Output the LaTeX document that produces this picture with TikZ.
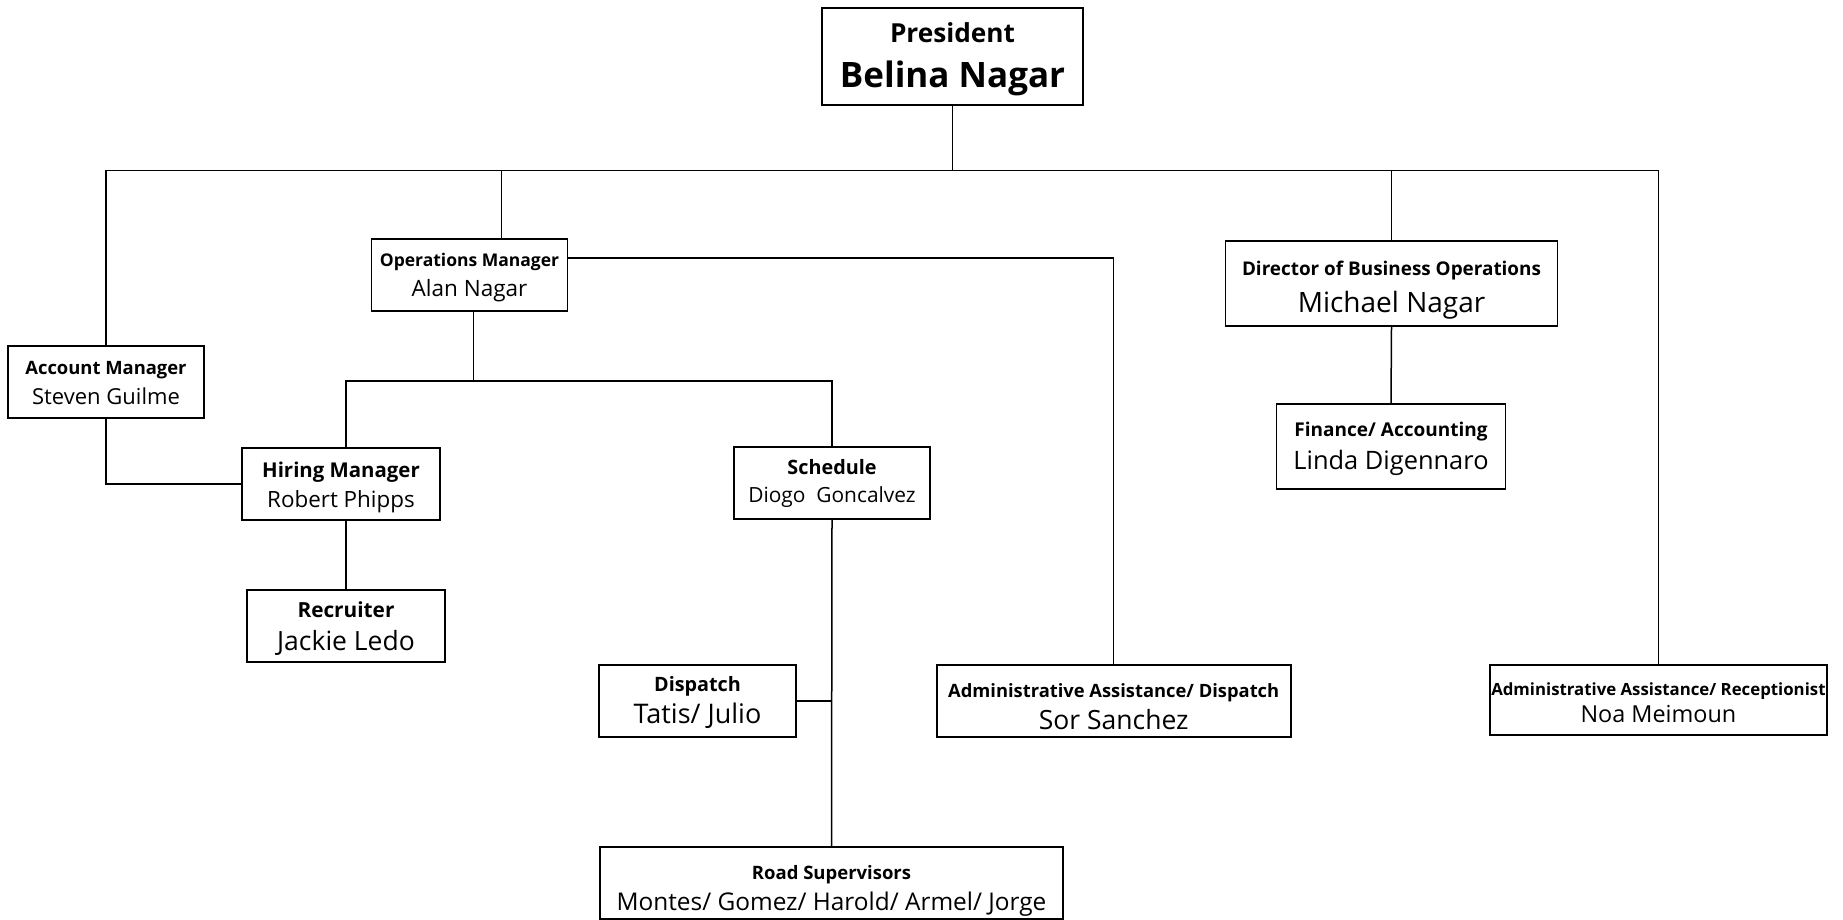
\documentclass[tikz,border=0pt]{standalone}
\usepackage{fontspec}
\setmainfont{Open Sans}
\newcommand{\ttl}[2]{{\fontsize{#1}{#1}\selectfont\bfseries #2}}
\newcommand{\nm}[2]{{\fontsize{#1}{#1}\selectfont #2}}
\newcommand{\up}[1]{\rule{0pt}{#1pt}}

\begin{document}
\begin{tikzpicture}[x=1pt,y=-1pt]
		\useasboundingbox (0,0) rectangle (1843,919);
		\tikzset{conn/.style={line width=1.5pt}}
		\begin{scope}[every node/.style={rectangle,draw,line width=1.8pt,
			align=center,inner sep=0pt,font=\fontsize{18}{30}\selectfont}]
		\node[minimum width=261pt,minimum height=97pt] (pres) at (952.5,56.5) {\up{24.7}\ttl{26.2}{President}\\[15pt]\ttl{35}{Belina Nagar}};
		\node[minimum width=196pt,minimum height=72pt] (acct) at (106,382) {\up{15}\ttl{18.4}{Account Manager}\\\nm{22}{Steven Guilme}};
		\node[minimum width=196pt,minimum height=72pt] (ops) at (469.5,275) {\up{18.1}\ttl{17.5}{Operations Manager}\\\nm{22.5}{Alan Nagar}};
		\node[minimum width=332pt,minimum height=85pt] (dir) at (1391.5,283.3) {\up{28.4}\ttl{18.9}{Director of Business Operations}\\[7pt]\nm{28}{Michael Nagar}};
		\node[minimum width=229pt,minimum height=85pt] (fin) at (1391,446.3) {\up{20.4}\ttl{19}{Finance/ Accounting}\\[3pt]\nm{25.4}{Linda Digennaro}};
		\node[minimum width=198pt,minimum height=72pt] (hire) at (341,484) {\up{21.5}\ttl{20.4}{Hiring Manager}\\\nm{22.4}{Robert Phipps}};
		\node[minimum width=196pt,minimum height=72pt] (sched) at (832,483) {\up{16.2}\ttl{19.8}{Schedule}\\[-2.5pt]\nm{20.9}{Diogo\ \ Goncalvez}};
		\node[minimum width=198pt,minimum height=72pt] (recr) at (346,626) {\up{20.6}\ttl{20.8}{Recruiter}\\[3pt]\nm{26.5}{Jackie Ledo}};
		\node[minimum width=197pt,minimum height=72pt] (disp) at (697.5,701) {\up{17.4}\ttl{19.8}{Dispatch}\\[2pt]\nm{27}{Tatis/ Julio}};
		\node[minimum width=354pt,minimum height=72pt] (adisp) at (1113.7,701) {\up{25.7}\ttl{18.35}{Administrative Assistance/ Dispatch}\\[1.7pt]\nm{26.5}{Sor Sanchez}};
		\node[minimum width=337pt,minimum height=70pt] (recep) at (1658.4,699.7) {\up{18.8}\ttl{16.8}{Administrative Assistance/ Receptionist}\\[-2pt]\nm{23.4}{Noa Meimoun}};
		\node[minimum width=463pt,minimum height=72pt] (road) at (831.5,883) {\up{29}\ttl{18.5}{Road Supervisors}\\[1pt]\nm{24.4}{Montes/ Gomez/ Harold/ Armel/ Jorge}};
		\end{scope}
		
		\coordinate (bus) at (952.5,170.7);
		\coordinate (sub) at (473.6,381);
		\draw[conn] (pres.south) -- (pres.south |- bus);
		\draw[conn] (acct.north) -- (acct.north |- bus) -- (recep.north |- bus) -- (recep.north);
		\draw[conn] ([xshift=32pt]ops.north) -- ([xshift=32pt]ops.north |- bus);
		\draw[conn] (dir.north) -- (dir.north |- bus);
		\draw[conn] ([yshift=17pt]ops.east) -| (adisp.north);
		\draw[conn] (dir.south) -- (fin.north);
		\draw[conn] ([xshift=4pt]ops.south) -- ([xshift=4pt]ops.south |- sub);
		\draw[conn] ([xshift=5pt]hire.north) |- (sub) -| (sched.north);
		\draw[conn] (acct.south) |- (hire.west);
		\draw[conn] (recr.north) -- (recr.north |- hire.south);
		\draw[conn] (sched.south) -- (road.north);
		\draw[conn] (disp.east) -- (disp.east -| road.north);
		\end{tikzpicture}
\end{document}
